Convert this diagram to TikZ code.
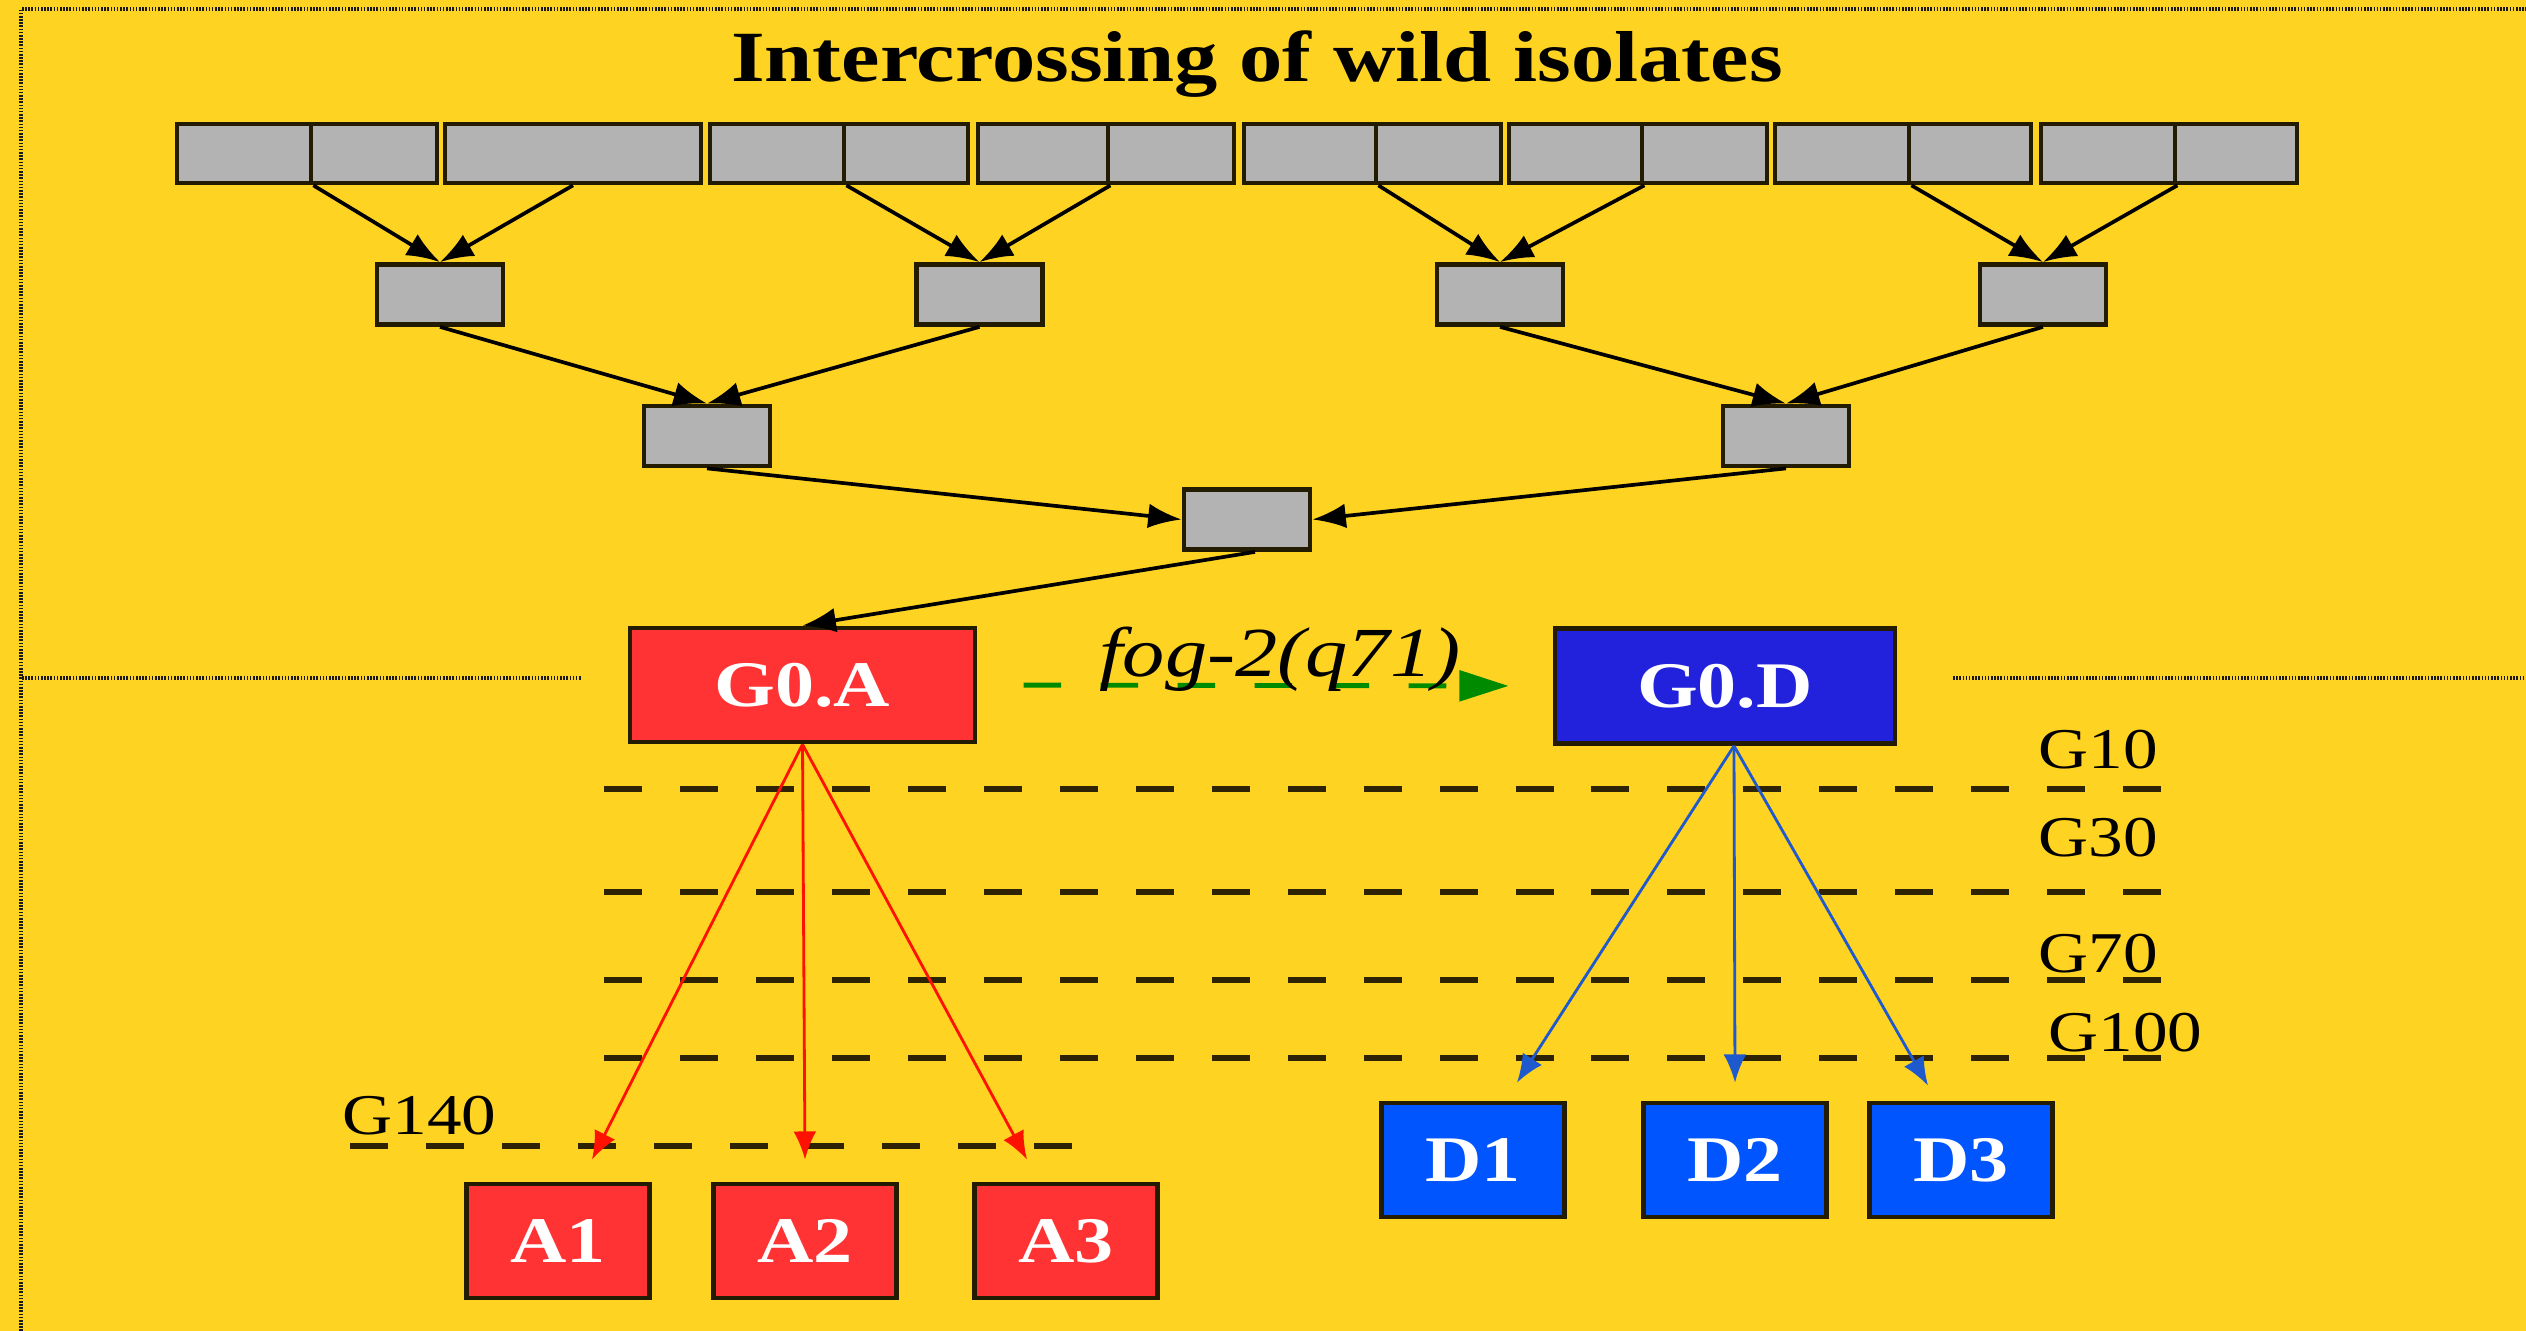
\documentclass[tikz,border=0pt]{standalone}
\usepackage{fontspec}
\setmainfont[FakeStretch=1.2]{Liberation Serif}
\usetikzlibrary{arrows.meta,calc}
\definecolor{bgyellow}{HTML}{FFD322}
\definecolor{boxgray}{HTML}{B3B3B3}
\definecolor{boxedge}{HTML}{231C02}
\definecolor{redfill}{HTML}{FF3333}
\definecolor{gdblue}{HTML}{2222DD}
\definecolor{dblue}{HTML}{0055FF}
\definecolor{redarrow}{HTML}{FF1100}
\definecolor{bluearrow}{HTML}{1E5ACD}
\definecolor{greenarrow}{HTML}{008A00}
\definecolor{gendash}{HTML}{2E2304}
\tikzset{
  gbox/.style={draw=boxedge, fill=boxgray, line width=1.35pt, inner sep=0pt, minimum height=0.59cm},
  sbox/.style={gbox, minimum width=1.26cm, minimum height=0.6cm},
  cbox/.style={draw=boxedge, line width=1.35pt, inner sep=0pt, text=white,
     font=\fontsize{18.5}{20}\selectfont\bfseries, minimum width=1.83cm, minimum height=1.14cm},
  cross/.style={-{Latex[length=9.5pt,width=7pt]}, line width=1.05pt, black},
  redarr/.style={-{Latex[length=8pt,width=6.5pt]}, line width=0.8pt, redarrow},
  bluearr/.style={-{Latex[length=8pt,width=6.5pt]}, line width=0.8pt, bluearrow},
  gen/.style={gendash, line width=1.6pt, dash pattern=on 10.8pt off 10.8pt},
  genlabel/.style={anchor=base west, inner sep=0pt, font=\fontsize{16.4}{18}\selectfont},
  frameline/.style={draw=black!90, line width=1pt, dash pattern=on 0.45pt off 0.45pt}
}
\begin{document}
\begin{tikzpicture}[x=0.01cm,y=-0.01cm]
\fill[bgyellow] (0,0) rectangle (2526,1331);
\useasboundingbox (0,0) rectangle (2526,1331);
% frame and separator
\draw[frameline] (21,1331) -- (21,9) -- (2526,9);
\draw[frameline] (22,678) -- (582,678);
\draw[frameline] (1953,678) -- (2526,678);
% title
\node[anchor=base, inner sep=0pt, font=\fontsize{20.5}{24}\selectfont\bfseries] (title) at (1257,82) {Intercrossing of wild isolates};
% top row of isolates
\node[gbox, minimum width=1.34cm] (t1) at (244,153.5) {};
\node[gbox, minimum width=1.26cm] (t2) at (374,153.5) {};
\node[gbox, minimum width=2.56cm] (t3) at (573,153.5) {};
\node[gbox, minimum width=1.34cm] (t4) at (777,153.5) {};
\node[gbox, minimum width=1.24cm] (t5) at (906,153.5) {};
\node[gbox, minimum width=1.30cm] (t6) at (1043,153.5) {};
\node[gbox, minimum width=1.26cm] (t7) at (1171,153.5) {};
\node[gbox, minimum width=1.32cm] (t8) at (1310,153.5) {};
\node[gbox, minimum width=1.25cm] (t9) at (1438.5,153.5) {};
\node[gbox, minimum width=1.33cm] (t10) at (1575.5,153.5) {};
\node[gbox, minimum width=1.25cm] (t11) at (1704.5,153.5) {};
\node[gbox, minimum width=1.34cm] (t12) at (1842,153.5) {};
\node[gbox, minimum width=1.22cm] (t13) at (1970,153.5) {};
\node[gbox, minimum width=1.34cm] (t14) at (2108,153.5) {};
\node[gbox, minimum width=1.22cm] (t15) at (2236,153.5) {};
% second level
\node[sbox] (m1) at (440,294.5) {};
\node[sbox] (m2) at (979.5,294.5) {};
\node[sbox] (m3) at (1500,294.5) {};
\node[sbox] (m4) at (2043,294.5) {};
% third level
\node[sbox] (l1) at (707,436) {};
\node[sbox] (l2) at (1786,436) {};
% fourth level
\node[sbox] (r) at (1247,519.5) {};
% arrows
\draw[cross] (t1.south east) -- (m1.north);
\draw[cross] (t3.south) -- (m1.north);
\draw[cross] (t4.south east) -- (m2.north);
\draw[cross] (t6.south east) -- (m2.north);
\draw[cross] (t8.south east) -- (m3.north);
\draw[cross] (t10.south east) -- (m3.north);
\draw[cross] (t12.south east) -- (m4.north);
\draw[cross] (t14.south east) -- (m4.north);
\draw[cross] (m1.south) -- (l1.north);
\draw[cross] (m2.south) -- (l1.north);
\draw[cross] (m3.south) -- (l2.north);
\draw[cross] (m4.south) -- (l2.north);
\draw[cross] (l1.south) -- (r.west);
\draw[cross] (l2.south) -- (r.east);
% founder strains
\node[cbox, fill=redfill, minimum width=3.45cm] (G0A) at (802.5,685) {G0.A};
\node[cbox, fill=gdblue, minimum width=3.40cm, minimum height=1.15cm] (G0D) at (1725,686) {G0.D};
\draw[cross] ($(r.south)+(8,0)$) -- (G0A.north);
% mutation arrow
\draw[greenarrow, line width=1.4pt, dash pattern=on 10.7pt off 11.2pt,
  -{Triangle[length=14pt,width=8.6pt]}, shorten <=13.1pt, shorten >=12.5pt]
  (G0A.east) -- (G0D.west);
\node[anchor=base, inner sep=0pt, font=\fontsize{20}{22}\selectfont\itshape] (fog) at (1280,677) {fog-2(q71)};
% generation lines
\draw[gen] (604,789) -- (2173,789);
\draw[gen] (604,892) -- (2173,892);
\draw[gen] (604,980) -- (2173,980);
\draw[gen] (604,1058) -- (2173,1058);
\draw[gen] (350,1146) -- (1077,1146);
\node[genlabel] (g10) at (2038,769) {G10};
\node[genlabel] (g30) at (2038,857) {G30};
\node[genlabel] (g70) at (2038,973) {G70};
\node[genlabel] (g100) at (2048,1052) {G100};
\node[genlabel] (g140) at (342,1135) {G140};
% lines
\node[cbox, fill=redfill] (A1) at (558,1241) {A1};
\node[cbox, fill=redfill] (A2) at (805,1241) {A2};
\node[cbox, fill=redfill] (A3) at (1066,1241) {A3};
\node[cbox, fill=dblue] (D1) at (1473,1160) {D1};
\node[cbox, fill=dblue] (D2) at (1735,1160) {D2};
\node[cbox, fill=dblue] (D3) at (1961,1160) {D3};
\coordinate (a1tip) at ($(A1.north)+(34,-22)$);
\coordinate (a2tip) at ($(A2.north)+(0,-22)$);
\coordinate (a3tip) at ($(A3.north)+(-39,-22)$);
\coordinate (d1tip) at ($(D1.north)+(44,-18)$);
\coordinate (d2tip) at ($(D2.north)+(0,-18)$);
\coordinate (d3tip) at ($(D3.north)+(-33,-15)$);
\draw[redarr] (G0A.south) -- (a1tip);
\draw[redarr] (G0A.south) -- (a2tip);
\draw[redarr] (G0A.south) -- (a3tip);
\draw[bluearr] ($(G0D.south)+(9,0)$) -- (d1tip);
\draw[bluearr] ($(G0D.south)+(9,0)$) -- (d2tip);
\draw[bluearr] ($(G0D.south)+(9,0)$) -- (d3tip);
\end{tikzpicture}
\end{document}
